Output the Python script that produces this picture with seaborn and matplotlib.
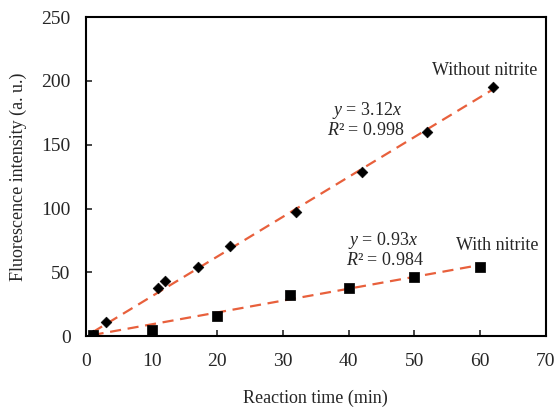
import numpy as np
import pandas as pd
import matplotlib
matplotlib.use('Agg')
import matplotlib.pyplot as plt
import seaborn as sns

# Without nitrite (diamonds)
time_without = [1, 3, 11, 12, 17, 22, 32, 42, 52, 62]
fl_without = [1, 11, 38, 43, 54, 71, 97, 129, 160, 195]
# With nitrite (squares)
time_with = [1, 10, 20, 31, 40, 50, 60]
fl_with = [1, 5, 16, 32, 38, 46, 54]
# fitted slopes
slope_without = 3.12
slope_with = 0.93
r2_without = 0.998
r2_with = 0.984

sns.set_style('ticks')
plt.rcParams['font.family'] = ['Liberation Serif', 'DejaVu Serif']
plt.rcParams['mathtext.fontset'] = 'custom'
plt.rcParams['mathtext.rm'] = 'Liberation Serif'
plt.rcParams['mathtext.it'] = 'Liberation Serif:italic'

fig = plt.figure(figsize=(5.55, 4.09), dpi=100)
ax = fig.add_axes([0.155, 0.178, 0.828, 0.78])

# trendlines
fit_without = pd.DataFrame({'x': [time_without[0], time_without[-1]]})
fit_without['y'] = slope_without * fit_without['x']
fit_with = pd.DataFrame({'x': [time_with[0], time_with[-1]]})
fit_with['y'] = slope_with * fit_with['x']
line_col = '#E8603C'
sns.lineplot(data=fit_without, x='x', y='y', ax=ax, color=line_col, lw=1.6,
             linestyle=(0, (5, 3)), zorder=2)
sns.lineplot(data=fit_with, x='x', y='y', ax=ax, color=line_col, lw=1.6,
             linestyle=(0, (5, 3)), zorder=2)

sns.scatterplot(x=time_without, y=fl_without, ax=ax, marker='D', s=30,
                color='black', edgecolor='black', zorder=3)
sns.scatterplot(x=time_with, y=fl_with, ax=ax, marker='s', s=42,
                color='black', edgecolor='black', zorder=3)

ax.set_xlim(0, 70)
ax.set_ylim(0, 250)
ax.set_xticks(range(0, 71, 10))
ax.set_yticks(range(0, 251, 50))
ax.tick_params(direction='in', length=4, width=1.2, labelsize=14,
               top=False, right=False)
ax.tick_params(axis='x', pad=12)
ax.tick_params(axis='y', pad=11)
for sp in ax.spines.values():
    sp.set_linewidth(1.5)
    sp.set_color('black')

ax.set_xlabel('Reaction time (min)', fontsize=13, labelpad=14)
ax.set_ylabel('Fluorescence intensity (a. u.)', fontsize=13, labelpad=10)

fs = 13
ax.text(42.8, 177, r'$y$ = %.2f$x$' % slope_without, ha='center', va='center', fontsize=fs)
ax.text(42.6, 161, r'$R$² = %.3f' % r2_without, ha='center', va='center', fontsize=fs)
ax.text(60.8, 208, 'Without nitrite', ha='center', va='center', fontsize=fs)
ax.text(45.3, 75, r'$y$ = %.2f$x$' % slope_with, ha='center', va='center', fontsize=fs)
ax.text(45.6, 59, r'$R$² = %.3f' % r2_with, ha='center', va='center', fontsize=fs)
ax.text(62.6, 71, 'With nitrite', ha='center', va='center', fontsize=fs)

fig.savefig('out.png', dpi=100)
